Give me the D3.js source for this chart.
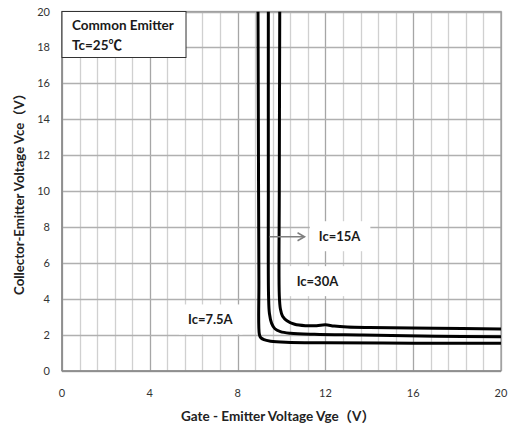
<!DOCTYPE html>
<html>
<head>
<meta charset="utf-8">
<script src="https://cdn.jsdelivr.net/npm/d3@7/dist/d3.min.js"></script>
<style>
  body { margin: 0; background: #fff; }
  text { font-family: Lato, "Noto Sans CJK SC", sans-serif; }
</style>
</head>
<body>
<div id="chart"></div>
<script>
var width = 509;
var height = 430;

// tick labels
var xTicks = [0, 4, 8, 12, 16, 20];
var yTicks = [0, 2, 4, 6, 8, 10, 12, 14, 16, 18, 20];

// curves: [Vge, Vce]
var ic75 = [[8.93,20],[8.95,12],[8.97,5],[8.99,2.05],[9.05,1.86],[9.2,1.74],[9.5,1.66],[10.2,1.6],[12,1.57],[16,1.55],[20,1.54]];
var ic15 = [[9.40,20],[9.40,10],[9.41,4.2],[9.45,3.2],[9.55,2.65],[9.7,2.35],[9.95,2.19],[10.4,2.1],[11.5,2.04],[13.7,2.0],[17,1.94],[20,1.91]];
var ic30 = [[9.92,20],[9.90,10],[9.90,4.2],[9.95,3.45],[10.05,3.05],[10.25,2.8],[10.6,2.6],[11.1,2.52],[11.6,2.52],[12.0,2.57],[12.4,2.5],[13,2.45],[14,2.42],[17,2.38],[20,2.34]];
var curves = [ic75, ic15, ic30];

var labels = [
  {text: "Ic=7.5A", x: 5.74, y: 2.84},
  {text: "Ic=30A", x: 10.69, y: 4.97},
  {text: "Ic=15A", x: 11.7, y: 7.47}
];

var margin = {left: 62, right: 8, top: 11.5, bottom: 59};

var svg = d3.select("#chart").append("svg")
    .attr("width", width)
    .attr("height", height);

var x = d3.scaleLinear().domain([0, 20]).range([margin.left, width - margin.right]);
var y = d3.scaleLinear().domain([0, 20]).range([height - margin.bottom, margin.top]);

svg.append("defs").append("clipPath").attr("id", "plot")
    .append("rect")
    .attr("x", x(0)).attr("y", y(20))
    .attr("width", x(20) - x(0)).attr("height", y(0) - y(20));

// vertical grid every 0.8, darker at ticks
var grid = svg.append("g");
d3.range(0, 26).forEach(function(i){
    var v = i * 0.8;
    grid.append("line")
        .attr("x1", Math.round(x(v)) + 0.5).attr("x2", Math.round(x(v)) + 0.5)
        .attr("y1", y(0)).attr("y2", y(20))
        .attr("stroke", i % 5 === 0 ? "#a6a6a6" : "#d0d0d0")
        .attr("stroke-width", 1.3);
});
yTicks.forEach(function(v){
    grid.append("line")
        .attr("x1", x(0)).attr("x2", x(20))
        .attr("y1", Math.round(y(v)) + 0.5).attr("y2", Math.round(y(v)) + 0.5)
        .attr("stroke", "#b0b0b0")
        .attr("stroke-width", 1.3);
});

// frame
svg.append("rect")
    .attr("x", x(0)).attr("y", y(20))
    .attr("width", x(20) - x(0)).attr("height", y(0) - y(20))
    .attr("fill", "none").attr("stroke", "#a0a0a0").attr("stroke-width", 1.3);
svg.append("line")
    .attr("x1", x(0)).attr("x2", x(20)).attr("y1", y(0)).attr("y2", y(0))
    .attr("stroke", "#888").attr("stroke-width", 1.5);
svg.append("line")
    .attr("x1", x(0)).attr("x2", x(0)).attr("y1", y(0)).attr("y2", y(20))
    .attr("stroke", "#888").attr("stroke-width", 1.5);

// axis labels
svg.selectAll(".xt").data(xTicks).enter().append("text")
    .attr("x", function(d){ return x(d); })
    .attr("y", y(0) + 26)
    .attr("text-anchor", "middle")
    .attr("font-size", 11)
    .attr("fill", "#333")
    .text(function(d){ return d; });
svg.selectAll(".yt").data(yTicks).enter().append("text")
    .attr("x", x(0) - 12)
    .attr("y", function(d){ return y(d) + 4; })
    .attr("text-anchor", "end")
    .attr("font-size", 11)
    .attr("fill", "#333")
    .text(function(d){ return d; });

svg.append("text")
    .attr("x", 278).attr("y", 421)
    .attr("text-anchor", "middle")
    .attr("font-size", 13.5)
    .attr("font-weight", "bold")
    .attr("fill", "#222")
    .text("Gate - Emitter Voltage Vge（V）");
svg.append("text")
    .attr("transform", "translate(24,191) rotate(-90)")
    .attr("text-anchor", "middle")
    .attr("font-size", 13.2)
    .attr("font-weight", "bold")
    .attr("fill", "#222")
    .text("Collector-Emitter Voltage Vce（V）");

// annotation boxes
var ann = svg.append("g");
labels.forEach(function(l){
    var t = ann.append("text")
        .attr("x", x(l.x)).attr("y", y(l.y) + 4.5)
        .attr("font-size", 13)
        .attr("font-weight", "bold")
        .attr("fill", "#1a1a1a")
        .text(l.text);
    var b = t.node().getBBox();
    ann.insert("rect", "text")
        .attr("x", b.x - 9).attr("y", b.y - 7)
        .attr("width", b.width + 18).attr("height", b.height + 14)
        .attr("fill", "#fff");
});

// curves
var line = d3.line()
    .x(function(d){ return x(d[0]); })
    .y(function(d){ return y(d[1]); })
    .curve(d3.curveCatmullRom.alpha(0.5));

svg.append("g").attr("clip-path", "url(#plot)")
    .selectAll("path").data(curves).enter().append("path")
    .attr("d", line)
    .attr("fill", "none")
    .attr("stroke", "#000")
    .attr("stroke-width", 3);

// arrow to Ic=15A
var ay = y(7.47);
svg.append("line")
    .attr("x1", x(9.45)).attr("x2", x(11.05)).attr("y1", ay).attr("y2", ay)
    .attr("stroke", "#7f7f7f").attr("stroke-width", 1.5);
svg.append("path")
    .attr("d", "M" + (x(11.05) - 7) + "," + (ay - 4) + "L" + x(11.05) + "," + ay + "L" + (x(11.05) - 7) + "," + (ay + 4))
    .attr("fill", "none").attr("stroke", "#7f7f7f").attr("stroke-width", 1.5);

// legend box
var lg = svg.append("g");
lg.append("rect")
    .attr("x", x(0)).attr("y", y(20))
    .attr("width", 124).attr("height", 46)
    .attr("fill", "#fff").attr("stroke", "#333").attr("stroke-width", 1);
lg.append("text")
    .attr("x", x(0) + 10).attr("y", y(20) + 18)
    .attr("font-size", 13.5).attr("font-weight", "bold").attr("fill", "#1a1a1a")
    .text("Common Emitter");
lg.append("text")
    .attr("x", x(0) + 10).attr("y", y(20) + 38)
    .attr("font-size", 13.5).attr("font-weight", "bold").attr("fill", "#1a1a1a")
    .text("Tc=25℃");
</script>
</body>
</html>
